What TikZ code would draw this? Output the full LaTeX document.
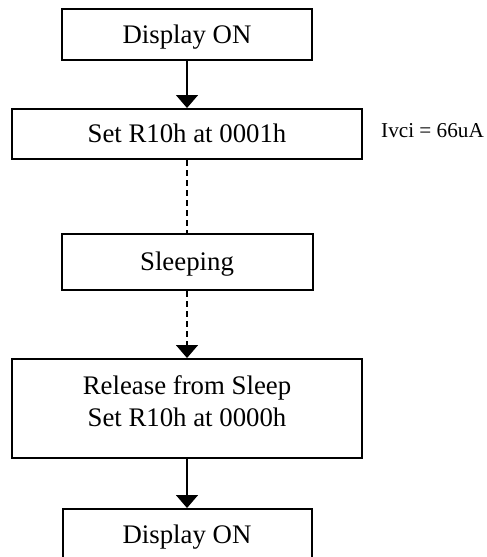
\documentclass[tikz,border=0pt]{standalone}
\usepackage{fontspec}
\setmainfont{Liberation Serif}
\usetikzlibrary{arrows.meta}
\begin{document}
\begin{tikzpicture}[x=0.5pt,y=-0.5pt,
    box/.style={draw,line width=1pt,inner sep=0pt,align=center,
      font=\fontsize{13.4}{16.3}\selectfont,text height=8.9pt,text depth=0pt},
    go/.style={line width=0.8pt,-{Triangle[width=11pt,length=6.5pt]}},
    wait/.style={line width=0.8pt,dash pattern=on 3pt off 2pt}]
    \useasboundingbox (0,0) rectangle (487,557);
    \node[box,minimum width=125pt,minimum height=25.5pt] (on1) at (187,34.5) {Display ON};
    \node[box,minimum width=175pt,minimum height=25pt] (set) at (187,134) {Set R10h at 0001h};
    \node[font=\fontsize{10.6}{12}\selectfont] (ivci) at (432.5,131) {Ivci = 66uA};
    \node[box,minimum width=125.5pt,minimum height=28pt] (sleep) at (187,262) {Sleeping};
    \node[box,minimum width=175pt,minimum height=49.5pt,text height=18.2pt] (wake) at (187,408.5)
      {Release from Sleep\\Set R10h at 0000h};
    \node[box,minimum width=124.5pt,minimum height=25.5pt] (on2) at (187,534.5) {Display ON};
    \draw[go] (on1) -- (set);
    \draw[wait] (set) -- (sleep);
    \draw[wait,-{Triangle[width=11pt,length=6.5pt]}] (sleep) -- (wake);
    \draw[go] (wake) -- (on2);
\end{tikzpicture}
\end{document}
